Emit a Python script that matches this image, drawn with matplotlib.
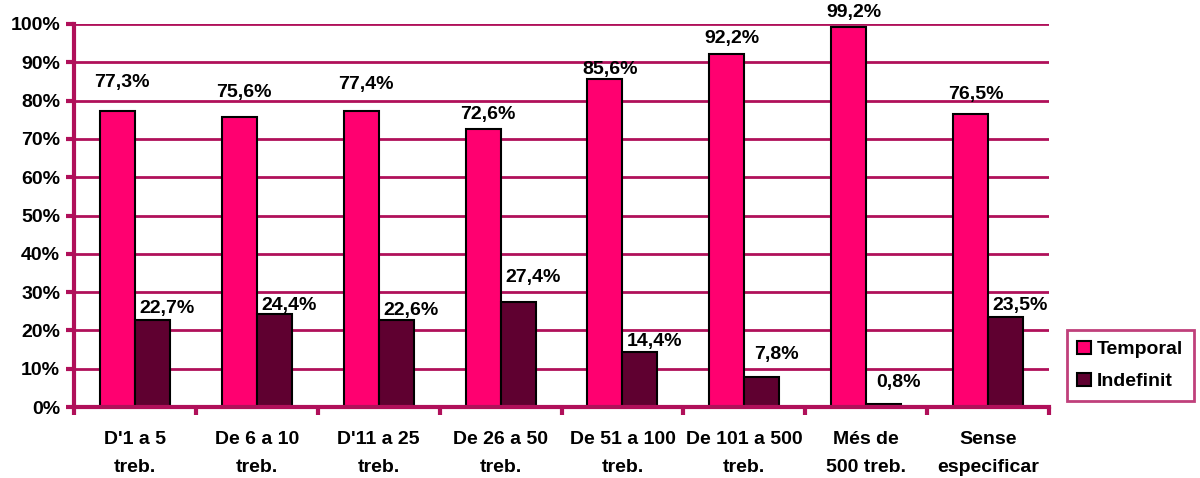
import matplotlib
matplotlib.use("Agg")
import matplotlib.pyplot as plt
import numpy as np

categories = ["D'1 a 5\ntreb.", "De 6 a 10\ntreb.", "D'11 a 25\ntreb.", "De 26 a 50\ntreb.",
              "De 51 a 100\ntreb.", "De 101 a 500\ntreb.", "Més de\n500 treb.", "Sense\nespecificar"]
temporal = [77.3, 75.6, 77.4, 72.6, 85.6, 92.2, 99.2, 76.5]
indefinit = [22.7, 24.4, 22.6, 27.4, 14.4, 7.8, 0.8, 23.5]
series_names = ["Temporal", "Indefinit"]
yticks = [0, 10, 20, 30, 40, 50, 60, 70, 80, 90, 100]

# vertical gap between each bar top and its value label
temporal_lift = [7.3, 6.4, 6.7, 3.9, 2.4, 4.1, 3.7, 5.2]
indefinit_lift = [3.1, 2.2, 2.7, 6.5, 2.6, 5.8, 5.7, 3.1]

plt.rcParams['font.family'] = ['Liberation Sans', 'DejaVu Sans']
plt.rcParams['font.weight'] = 'bold'

axis_col = "#B0105A"
temp_col = "#FF0070"
ind_col = "#5F0030"
fs = 14

fig = plt.figure(figsize=(12, 4.78), dpi=100)
ax = fig.add_axes([0.0617, 0.1485, 0.8125, 0.8013])

x = np.arange(len(categories))
w = 0.287
b1 = ax.bar(x - w / 2, temporal, w, color=temp_col, edgecolor="black", linewidth=1.5, zorder=3,
            label=series_names[0])
b2 = ax.bar(x + w / 2, indefinit, w, color=ind_col, edgecolor="black", linewidth=1.5, zorder=3,
            label=series_names[1])

fmt = lambda v: f"{v:.1f}%".replace(".", ",")
for xi, v, d in zip(x, temporal, temporal_lift):
    ax.text(xi - w / 2 + 0.04, v + d, fmt(v), ha="center", va="center", fontsize=fs,
            fontweight="bold", zorder=4)
for xi, v, d in zip(x, indefinit, indefinit_lift):
    ax.text(xi + w / 2 + 0.12, v + d, fmt(v), ha="center", va="center", fontsize=fs,
            fontweight="bold", zorder=4)

ax.set_xlim(-0.5, len(categories) - 0.5)
ax.set_ylim(0, 100)
ax.set_yticks(yticks)
ax.set_yticklabels([f"{t}%" for t in yticks], fontsize=fs, fontweight="bold")
ax.yaxis.grid(True, color=axis_col, linewidth=2, zorder=0)
ax.set_axisbelow(True)

ax.set_xticks(np.arange(-0.5, len(categories), 1.0))
ax.set_xticklabels([])
ax.set_xticks(x, minor=True)
ax.set_xticklabels(categories, minor=True, fontsize=fs, fontweight="bold", linespacing=1.9)
ax.tick_params(axis="x", which="minor", length=0, pad=17)
ax.tick_params(axis="x", which="major", length=6, width=3, color=axis_col, direction="out")
ax.tick_params(axis="y", length=6, width=3, color=axis_col, direction="out", pad=4)

for s in ["top", "right"]:
    ax.spines[s].set_visible(False)
for s in ["left", "bottom"]:
    ax.spines[s].set_color(axis_col)
    ax.spines[s].set_linewidth(3)
ax.spines["bottom"].set_zorder(5)

leg = fig.legend(handles=[b1, b2], loc="upper left", bbox_to_anchor=(0.889, 0.31),
                 frameon=True, fancybox=False, fontsize=fs, handlelength=0.7, handleheight=0.7,
                 handletextpad=0.3, labelspacing=0.75, borderpad=0.55, borderaxespad=0)
leg.get_frame().set_edgecolor(axis_col)
leg.get_frame().set_linewidth(2)
for t in leg.get_texts():
    t.set_fontweight("bold")

fig.savefig("out.png", dpi=100)
